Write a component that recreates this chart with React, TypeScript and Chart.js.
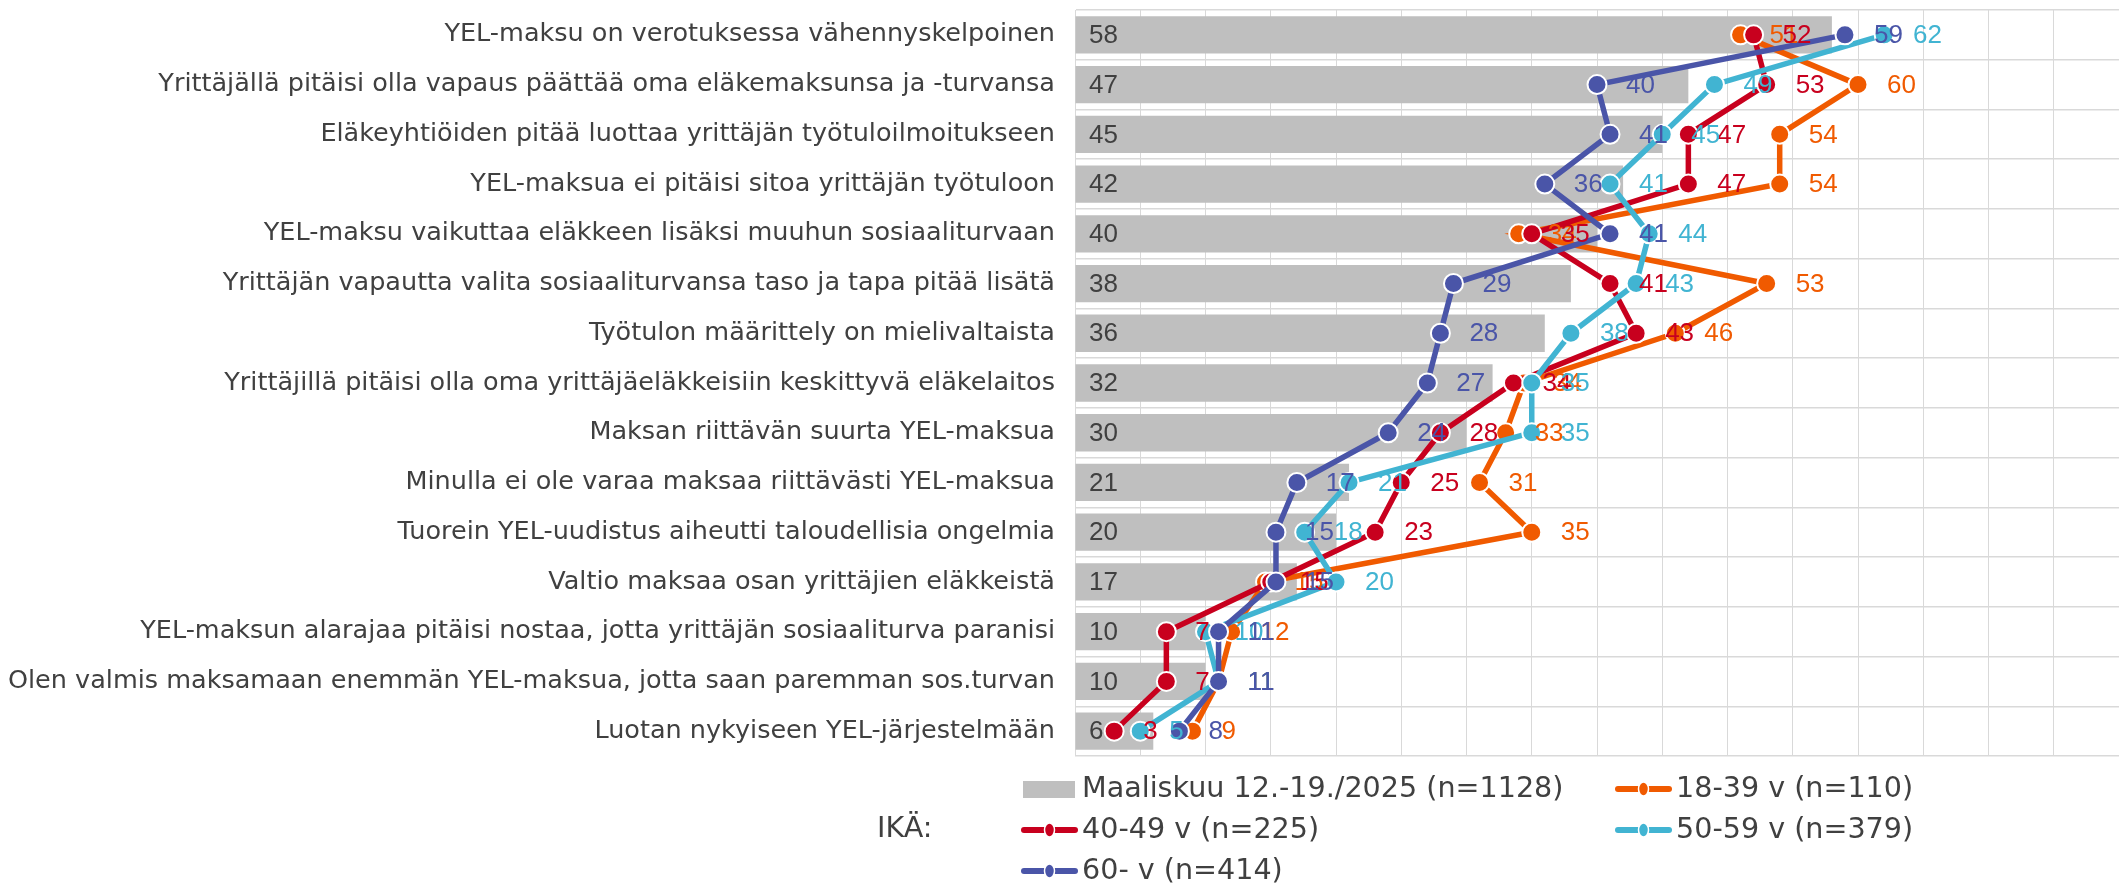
import React, { useEffect, useRef } from 'react';
import { Chart, registerables } from 'chart.js';

Chart.register(...registerables);

const categories = [
  'YEL-maksu on verotuksessa vähennyskelpoinen',
  'Yrittäjällä pitäisi olla vapaus päättää oma eläkemaksunsa ja -turvansa',
  'Eläkeyhtiöiden pitää luottaa yrittäjän työtuloilmoitukseen',
  'YEL-maksua ei pitäisi sitoa yrittäjän työtuloon',
  'YEL-maksu vaikuttaa eläkkeen lisäksi muuhun sosiaaliturvaan',
  'Yrittäjän vapautta valita sosiaaliturvansa taso ja tapa pitää lisätä',
  'Työtulon määrittely on mielivaltaista',
  'Yrittäjillä pitäisi olla oma yrittäjäeläkkeisiin keskittyvä eläkelaitos',
  'Maksan riittävän suurta YEL-maksua',
  'Minulla ei ole varaa maksaa riittävästi YEL-maksua',
  'Tuorein YEL-uudistus aiheutti taloudellisia ongelmia',
  'Valtio maksaa osan yrittäjien eläkkeistä',
  'YEL-maksun alarajaa pitäisi nostaa, jotta yrittäjän sosiaaliturva paranisi',
  'Olen valmis maksamaan enemmän YEL-maksua, jotta saan paremman sos.turvan',
  'Luotan nykyiseen YEL-järjestelmään',
];

const totalValues = [58, 47, 45, 42, 40, 38, 36, 32, 30, 21, 20, 17, 10, 10, 6];
const age18to39 = [51, 60, 54, 54, 34, 53, 46, 34.4, 33, 31, 35, 14.6, 12, 11, 9];
const age40to49 = [52, 53, 47, 47, 35, 41, 43, 33.6, 28, 25, 23, 15, 7, 7, 3];
const age50to59 = [62, 49, 45, 41, 44, 43, 38, 35, 35, 21, 17.6, 20, 10, 11, 5];
const age60plus = [59, 40, 41, 36, 41, 29, 28, 27, 24, 17, 15.4, 15.4, 11, 11, 8];

const seriesLabels = [
  'Maaliskuu 12.-19./2025 (n=1128)',
  '18-39 v (n=110)',
  '40-49 v (n=225)',
  '50-59 v (n=379)',
  '60- v (n=414)',
];
const legendPrefix = 'IKÄ:';

const LABEL_FONT = '"DejaVu Sans", sans-serif';
const VALUE_FONT = '"Liberation Sans", Arial, sans-serif';
const TEXT_COLOR = '#404040';
const GRID_COLOR = '#d9d9d9';
const BAR_COLOR = '#bfbfbf';
const COLORS = ['#f05a00', '#c8001e', '#41b4d2', '#4a55a8'];

const valueLabelPlugin = {
  id: 'valueLabels',
  afterDatasetsDraw(chart: any) {
    const ctx = chart.ctx;
    ctx.save();
    ctx.font = `26px ${VALUE_FONT}`;
    ctx.textAlign = 'left';
    ctx.textBaseline = 'middle';
    chart.data.datasets.forEach((ds: any, i: number) => {
      const meta = chart.getDatasetMeta(i);
      meta.data.forEach((el: any, j: number) => {
        const txt = String(Math.round(ds.data[j]));
        if (ds.type === 'bar') {
          ctx.fillStyle = TEXT_COLOR;
          ctx.fillText(txt, chart.chartArea.left + 14, el.y + 1);
        } else {
          ctx.fillStyle = ds.borderColor;
          ctx.fillText(txt, el.x + 29, el.y + 1);
        }
      });
    });
    ctx.restore();
  },
};

const legendPlugin = {
  id: 'customLegend',
  afterDraw(chart: any) {
    const ctx = chart.ctx;
    ctx.save();
    ctx.font = `28.6px ${LABEL_FONT}`;
    ctx.textBaseline = 'middle';
    ctx.fillStyle = TEXT_COLOR;
    ctx.textAlign = 'left';
    const rowsY = [789, 830, 871];
    const markX = [1021, 1615];
    const textX = [1082, 1676];
    ctx.fillText(legendPrefix, 877, rowsY[1]);
    chart.data.datasets.forEach((ds: any, k: number) => {
      const col = k % 2;
      const row = Math.floor(k / 2);
      const y = rowsY[row];
      const mx = markX[col];
      if (ds.type === 'bar') {
        ctx.fillStyle = BAR_COLOR;
        ctx.fillRect(mx + 2, y - 8, 52, 17);
      } else {
        ctx.strokeStyle = ds.borderColor;
        ctx.lineWidth = 6;
        ctx.lineCap = 'round';
        ctx.beginPath();
        ctx.moveTo(mx + 3, y);
        ctx.lineTo(mx + 54, y);
        ctx.stroke();
        ctx.fillStyle = ds.borderColor;
        ctx.strokeStyle = '#ffffff';
        ctx.lineWidth = 1.5;
        ctx.beginPath();
        ctx.ellipse(mx + 28.5, y, 5, 7, 0, 0, Math.PI * 2);
        ctx.fill();
        ctx.stroke();
      }
      ctx.fillStyle = TEXT_COLOR;
      ctx.fillText(ds.label, textX[col], y + 1);
    });
    ctx.restore();
  },
};

function lineDataset(label: string, data: number[], color: string, order: number) {
  return {
    type: 'line' as const,
    label,
    data,
    indexAxis: 'y' as const,
    borderColor: color,
    backgroundColor: color,
    borderWidth: 5.5,
    pointRadius: 9.5,
    pointBorderWidth: 2,
    pointBorderColor: '#ffffff',
    pointBackgroundColor: color,
    tension: 0,
    fill: false,
    clip: false,
    order,
  };
}

export default function App() {
  const canvasRef = useRef<HTMLCanvasElement | null>(null);

  useEffect(() => {
    if (!canvasRef.current) return;
    const chart = new Chart(canvasRef.current, {
      type: 'bar',
      data: {
        labels: categories,
        datasets: [
          {
            type: 'bar',
            label: seriesLabels[0],
            data: totalValues,
            indexAxis: 'y',
            backgroundColor: BAR_COLOR,
            barPercentage: 0.75,
            categoryPercentage: 1,
            order: 10,
          } as any,
          lineDataset(seriesLabels[1], age18to39, COLORS[0], 4),
          lineDataset(seriesLabels[2], age40to49, COLORS[1], 3),
          lineDataset(seriesLabels[3], age50to59, COLORS[2], 2),
          lineDataset(seriesLabels[4], age60plus, COLORS[3], 1),
        ],
      },
      options: {
        indexAxis: 'y',
        responsive: false,
        maintainAspectRatio: false,
        animation: false,
        devicePixelRatio: 1,
        layout: { autoPadding: false, padding: { left: 0, right: 0, top: 10, bottom: 131 } },
        plugins: {
          legend: { display: false },
          tooltip: { enabled: false },
        },
        scales: {
          x: {
            type: 'linear',
            min: 0,
            max: 80,
            ticks: { display: false, stepSize: 5 },
            grid: { color: GRID_COLOR, drawTicks: false, lineWidth: 1 },
            border: { display: false },
            afterFit: (s: any) => {
              s.height = 0;
              s.paddingLeft = 0;
              s.paddingRight = 0;
            },
          },
          y: {
            type: 'category',
            grid: { color: GRID_COLOR, offset: true, drawTicks: false, lineWidth: 1.5 },
            border: { color: GRID_COLOR },
            ticks: {
              color: TEXT_COLOR,
              padding: 20,
              font: { family: LABEL_FONT, size: 25.5 },
              autoSkip: false,
            },
            afterFit: (s: any) => {
              s.width = 1075;
              s.paddingTop = 0;
              s.paddingBottom = 0;
            },
          },
        },
      } as any,
      plugins: [valueLabelPlugin, legendPlugin],
    });
    return () => chart.destroy();
  }, []);

  return (
    <div style={{ position: 'absolute', left: 0, top: 0, width: 2119, height: 887, background: '#ffffff' }}>
      <canvas ref={canvasRef} width={2119} height={887} style={{ width: 2119, height: 887 }} />
    </div>
  );
}
